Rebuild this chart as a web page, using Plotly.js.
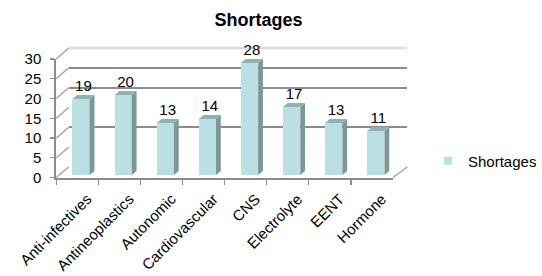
<!DOCTYPE html>
<html>
<head>
<meta charset="utf-8">
<script src="https://cdn.plot.ly/plotly-3.0.1.min.js"></script>
<style>html,body{margin:0;padding:0;background:#fff}#chart{width:542px;height:276px}</style>
</head>
<body>
<div id="chart"></div>
<script>
// ---- data ----
const categories = ['Anti-infectives','Antineoplastics','Autonomic','Cardiovascular','CNS','Electrolyte','EENT','Hormone'];
const shortages = [19, 20, 13, 14, 28, 17, 13, 11];
const seriesName = 'Shortages';
const chartTitle = 'Shortages';
const yTickVals = [0, 5, 10, 15, 20, 25, 30];
const backGridVals = [0, 10, 20, 25];

// ---- geometry helpers (pixel -> paper) ----
const W = 542, H = 276;
const px = x => x / W;
const py = y => 1 - y / H;

const FONT = 'Liberation Sans, Arial, sans-serif';
const GRID = '#8c8c8c';
const FRONT = '#bae0e4', SIDE = '#7b9797', TOP = '#90b2b2';

const backDom = {x: [px(72), px(427)], y: [py(167), py(48)]};
const midDom = {x: [px(62.9), px(416.1)], y: [py(175), py(55)]};
const frontDom = {x: [px(59), px(412)], y: [py(177.5), py(59)]};

const n = categories.length;
const idx = categories.map((_, i) => i);
const catPx = (midDom.x[1] - midDom.x[0]) * W / n;
const hw = 0.205;          // half bar width (category units)
const dx = 5 / catPx;      // depth offset in x
const dy = 1.0;            // depth offset in y (data units ~4px)

// side and top faces
const sideX = [], sideY = [], topX = [], topY = [];
idx.forEach(i => {
  const v = shortages[i];
  sideX.push(i + hw, i + hw + dx, i + hw + dx, i + hw, i + hw, null);
  sideY.push(0, dy, v + dy, v, 0, null);
  topX.push(i - hw, i + hw, i + hw + dx, i - hw + dx, i - hw, null);
  topY.push(v, v, v + dy, v + dy, v, null);
});

const traces = [
  // back wall subplot (gridlines)
  {type: 'scatter', x: [0.5], y: [0], xaxis: 'x', yaxis: 'y', mode: 'markers',
   marker: {opacity: 0}, hoverinfo: 'skip', showlegend: false},
  // bars
  {type: 'bar', x: idx, y: shortages, xaxis: 'x2', yaxis: 'y2', width: 2 * hw,
   marker: {color: FRONT, line: {width: 0}}, name: seriesName, showlegend: false, hoverinfo: 'skip'},
  {type: 'scatter', x: sideX, y: sideY, xaxis: 'x2', yaxis: 'y2', mode: 'lines', fill: 'toself',
   fillcolor: SIDE, line: {width: 0, color: SIDE}, hoverinfo: 'skip', showlegend: false},
  {type: 'scatter', x: topX, y: topY, xaxis: 'x2', yaxis: 'y2', mode: 'lines', fill: 'toself',
   fillcolor: TOP, line: {width: 0, color: TOP}, hoverinfo: 'skip', showlegend: false},
  {type: 'scatter', x: idx.map(i => i + dx / 2), y: shortages.map(v => v + dy), xaxis: 'x2', yaxis: 'y2',
   mode: 'text', text: shortages.map(String), textposition: 'top center',
   textfont: {family: FONT, size: 15, color: '#000'}, hoverinfo: 'skip', showlegend: false, cliponaxis: false},
  {type: 'scatter', x: [null], y: [null], xaxis: 'x2', yaxis: 'y2', mode: 'markers', name: seriesName,
   marker: {symbol: 'square', size: 8, color: FRONT}, showlegend: true},
  // front plane (axis labels)
  {type: 'scatter', x: categories, y: shortages, xaxis: 'x3', yaxis: 'y3', mode: 'markers',
   marker: {opacity: 0}, hoverinfo: 'skip', showlegend: false}
];

// frame shapes
const fy = v => frontDom.y[0] + v / 30 * (frontDom.y[1] - frontDom.y[0]);
const by = v => backDom.y[0] + v / 30 * (backDom.y[1] - backDom.y[0]);
const shapes = [];
yTickVals.forEach(v => {
  shapes.push({type: 'line', xref: 'paper', yref: 'paper', x0: frontDom.x[0], y0: fy(v), x1: backDom.x[0], y1: by(v),
    line: {color: '#a0a0a0', width: 1.3}, layer: 'below'});
});
shapes.push({type: 'line', xref: 'paper', yref: 'paper', x0: frontDom.x[1], y0: fy(0), x1: backDom.x[1], y1: by(0),
  line: {color: '#a0a0a0', width: 1.3}, layer: 'below'});
shapes.push({type: 'line', xref: 'paper', yref: 'paper', x0: backDom.x[0], y0: by(30), x1: backDom.x[1], y1: by(30),
  line: {color: '#e0e0e0', width: 3}, layer: 'below'});

const axisFont = {family: FONT, size: 15, color: '#000'};

const layout = {
  width: W, height: H,
  margin: {l: 0, r: 0, t: 0, b: 0},
  paper_bgcolor: '#fff', plot_bgcolor: 'rgba(0,0,0,0)',
  font: {family: FONT, size: 15, color: '#000'},
  title: {text: chartTitle, font: {family: FONT, size: 18, weight: 'bold', color: '#000'},
    x: 0.5, xanchor: 'center', xref: 'paper', y: py(19.5), yref: 'paper', yanchor: 'middle'},
  showlegend: true,
  legend: {x: px(449), y: py(161), xanchor: 'left', yanchor: 'middle', font: axisFont,
    bgcolor: 'rgba(0,0,0,0)', borderwidth: 0},
  hovermode: false,
  bargap: 0,
  xaxis: {domain: backDom.x, anchor: 'y', range: [0, 1], showgrid: false, zeroline: false,
    showticklabels: false, ticks: '', showline: false, fixedrange: true},
  yaxis: {domain: backDom.y, anchor: 'x', range: [0, 30], tickvals: backGridVals, showgrid: true,
    gridcolor: GRID, gridwidth: 2, zeroline: false, showticklabels: false, ticks: '', showline: false, fixedrange: true},
  xaxis2: {domain: midDom.x, anchor: 'y2', range: [-0.5, n - 0.5], visible: false, fixedrange: true},
  yaxis2: {domain: midDom.y, anchor: 'x2', range: [0, 30], visible: false, fixedrange: true},
  xaxis3: {domain: frontDom.x, anchor: 'y3', type: 'category', categoryorder: 'array', categoryarray: categories,
    range: [-0.5, n - 0.5], ticks: 'outside', tickson: 'boundaries', ticklen: 5, tickwidth: 1.3, tickcolor: GRID,
    showline: true, linecolor: GRID, linewidth: 2, showgrid: false, zeroline: false, tickangle: -45,
    tickfont: axisFont, ticklabelstandoff: 5, ticklabelshift: 10, fixedrange: true},
  yaxis3: {domain: frontDom.y, anchor: 'x3', range: [0, 30], tickvals: yTickVals, ticks: 'outside', ticklen: 4,
    tickwidth: 1.3, tickcolor: GRID, showline: true, linecolor: GRID, linewidth: 2, showgrid: false, zeroline: false,
    tickfont: axisFont, ticklabelstandoff: 6, fixedrange: true},
  shapes: shapes
};

Plotly.newPlot('chart', traces, layout, {staticPlot: true, displayModeBar: false});
</script>
</body>
</html>
